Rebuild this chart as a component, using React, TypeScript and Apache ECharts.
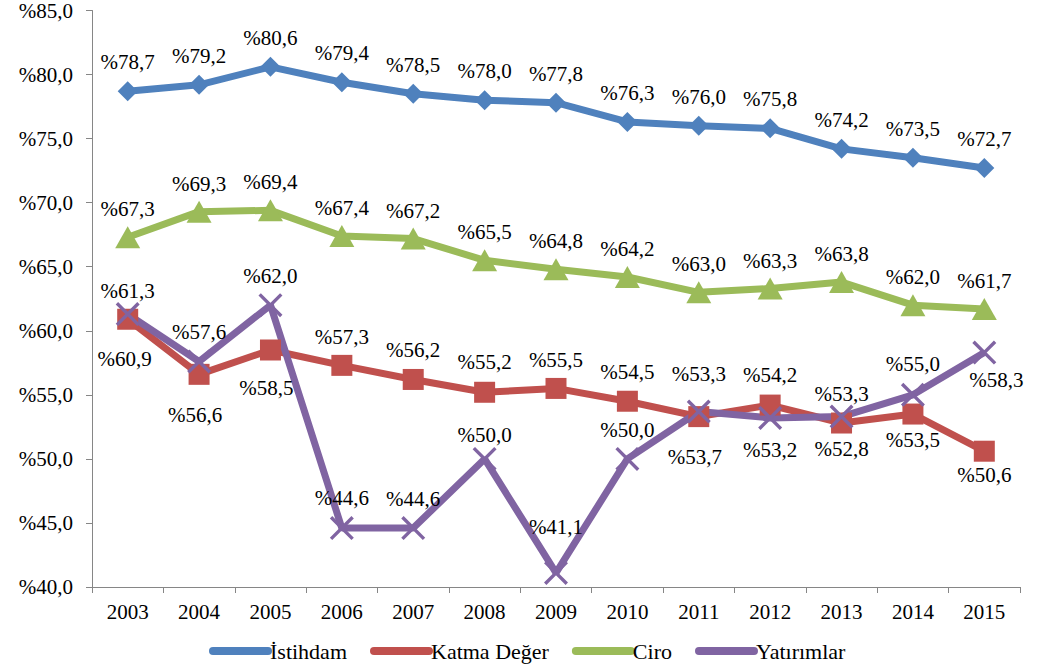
import React, { useEffect, useRef } from "react";
import * as echarts from "echarts";

const years = ["2003", "2004", "2005", "2006", "2007", "2008", "2009", "2010", "2011", "2012", "2013", "2014", "2015"];
const istihdam = [78.7, 79.2, 80.6, 79.4, 78.5, 78.0, 77.8, 76.3, 76.0, 75.8, 74.2, 73.5, 72.7];
const katmaDeger = [60.9, 56.6, 58.5, 57.3, 56.2, 55.2, 55.5, 54.5, 53.3, 54.2, 52.8, 53.5, 50.6];
const ciro = [67.3, 69.3, 69.4, 67.4, 67.2, 65.5, 64.8, 64.2, 63.0, 63.3, 63.8, 62.0, 61.7];
const yatirimlar = [61.3, 57.6, 62.0, 44.6, 44.6, 50.0, 41.1, 50.0, 53.7, 53.2, 53.3, 55.0, 58.3];

// label placement (offset of label centre from the point, px)
const istihdamLabelOffset = years.map(() => [0, -29]);
const ciroLabelOffset = years.map(() => [0, -28]);
const katmaLabelOffset = [[-3, 40], [-4, 41], [-4, 38], [0, -28], [0, -29], [0, -30], [0, -28], [0, -29], [0, -43], [0, -30], [0, 26], [0, 26], [0, 24]];
const yatirimLabelOffset = [[0, -23], [0, -30], [0, -29], [0, -30], [0, -29], [0, -24], [0, -46], [0, -29], [-4, 46], [0, 32], [0, -23], [0, -31], [12, 27]];

const FONT = "Liberation Serif";
const fmt = (v: number) => "%" + v.toFixed(1).replace(".", ",");

const X_SYMBOL = "path://M0,1 L1,0 L10,9 L9,10 Z M9,0 L10,1 L1,10 L0,9 Z";

function build(name: string, values: number[], offsets: number[][], color: string, symbol: string, symbolSize: any) {
  return {
    name,
    type: "line",
    data: values.map((v, i) => ({ value: v, label: { offset: offsets[i] } })),
    symbol,
    symbolSize,
    showAllSymbol: true,
    lineStyle: { color, width: 7 },
    itemStyle: { color },
    label: {
      show: true,
      position: "inside",
      formatter: (p: any) => fmt(p.value),
      fontFamily: FONT,
      fontSize: 21,
      color: "#000",
    },
  };
}

export default function App() {
  const ref = useRef<HTMLDivElement>(null);
  useEffect(() => {
    if (!ref.current) return;
    const chart = echarts.init(ref.current, null, { renderer: "svg" });
    chart.setOption({
      animation: false,
      backgroundColor: "#fff",
      textStyle: { fontFamily: FONT },
      grid: { left: 92, right: 17, top: 9, bottom: 78, containLabel: false },
      xAxis: {
        type: "category",
        data: years,
        boundaryGap: true,
        axisLine: { lineStyle: { color: "#868686", width: 1 } },
        axisTick: { show: true, length: 6, lineStyle: { color: "#868686" } },
        axisLabel: { fontFamily: FONT, fontSize: 21, color: "#000", margin: 14 },
      },
      yAxis: {
        type: "value",
        min: 40,
        max: 85,
        interval: 5,
        splitLine: { show: false },
        axisLine: { show: true, lineStyle: { color: "#868686", width: 1 } },
        axisTick: { show: true, length: 6, lineStyle: { color: "#868686" } },
        axisLabel: { fontFamily: FONT, fontSize: 21, color: "#000", margin: 19, formatter: (v: number) => fmt(v) },
      },
      legend: {
        left: 209,
        top: 640,
        padding: 0,
        itemWidth: 55,
        itemHeight: 10,
        itemGap: 23,
        lineStyle: { width: 8, cap: "round" },
        textStyle: { fontFamily: FONT, fontSize: 22, color: "#000", padding: [0, 0, 0, -3] },
        data: ["İstihdam", "Katma Değer", "Ciro", "Yatırımlar"],
      },
      series: [
        build("İstihdam", istihdam, istihdamLabelOffset, "#4F81BD", "diamond", 20),
        build("Katma Değer", katmaDeger, katmaLabelOffset, "#C0504D", "rect", 21),
        build("Ciro", ciro, ciroLabelOffset, "#9BBB59", "triangle", [25, 22]),
        build("Yatırımlar", yatirimlar, yatirimLabelOffset, "#8064A2", X_SYMBOL, 24),
      ],
    });
    return () => chart.dispose();
  }, []);
  return <div ref={ref} style={{ position: "absolute", left: 0, top: 0, width: 1037, height: 665 }} />;
}
